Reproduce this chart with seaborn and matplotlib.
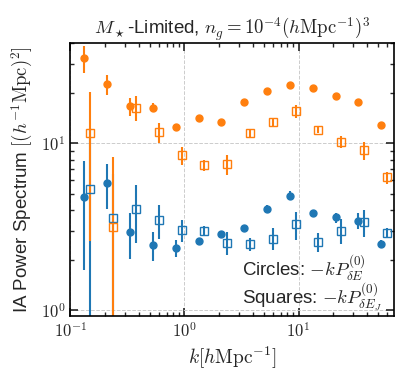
import matplotlib

matplotlib.use("Agg")
import matplotlib.pyplot as plt
import numpy as np
import seaborn as sns
from matplotlib.ticker import FuncFormatter, LogLocator

# ───────────────────────────────────────────────────────────────
# Data
# ───────────────────────────────────────────────────────────────
k_circles = [0.133, 0.211, 0.335, 0.531, 0.841, 1.33, 2.11, 3.35, 5.31, 8.41, 13.3, 21.1, 33.5, 53.1]
k_squares = [0.150, 0.237, 0.376, 0.596, 0.944, 1.49, 2.37, 3.76, 5.96, 9.44, 14.9, 23.7, 37.6, 59.6]

blue_circ = [4.8, 5.8, 2.93, 2.46, 2.35, 2.6, 2.85, 3.09, 4.07, 4.85, 3.82, 3.6, 3.43, 2.5]
blue_circ_err = [3.05, 1.75, 0.9, 0.48, 0.27, 0.1, 0.12, 0.1, 0.2, 0.3, 0.15, 0.25, 0.38, 0.15]
orange_circ = [32.5, 22.6, 16.7, 16.4, 12.6, 14.3, 13.4, 17.7, 20.7, 22.4, 21.4, 19.3, 17.7, 12.9]
orange_circ_err = [5.9, 3.1, 2.0, 1.05, 0.5, 0.3, 0.4, 0.35, 0.4, 0.45, 0.4, 0.4, 0.35, 0.4]

blue_sq = [5.3, 3.58, 4.07, 3.48, 3.02, 2.98, 2.53, 2.49, 2.69, 3.27, 2.57, 3.0, 3.37, 2.91]
blue_sq_err = [7.0, 3.0, 1.55, 0.81, 0.45, 0.2, 0.4, 0.23, 0.4, 0.63, 0.35, 0.5, 0.63, 0.2]
orange_sq = [11.5, 3.16, 16.4, 11.7, 8.47, 7.41, 7.5, 11.5, 13.5, 15.6, 12.0, 10.2, 9.12, 6.25]
orange_sq_err = [8.9, 5.1, 2.85, 1.6, 1.0, 0.55, 1.05, 0.6, 0.75, 1.35, 0.5, 0.85, 1.15, 0.5]

BLUE = "#1f77b4"
ORANGE = "#ff7f0e"

# ───────────────────────────────────────────────────────────────
# Style
# ───────────────────────────────────────────────────────────────
sns.set_theme(style="ticks")
plt.rcParams.update({
    "font.family": ["Liberation Sans", "DejaVu Sans"],
    "mathtext.fontset": "cm",
    "xtick.direction": "in",
    "ytick.direction": "in",
    "xtick.top": True,
    "ytick.right": True,
    "xtick.minor.visible": True,
    "ytick.minor.visible": True,
    "xtick.major.size": 6,
    "ytick.major.size": 6,
    "xtick.minor.size": 3,
    "ytick.minor.size": 3,
    "xtick.major.width": 1.2,
    "ytick.major.width": 1.2,
    "axes.linewidth": 1.2,
    "axes.edgecolor": "black",
})

fig, ax = plt.subplots(figsize=(4.13, 3.81), dpi=100)

ax.errorbar(k_circles, blue_circ, yerr=blue_circ_err, fmt="o", color=BLUE,
            ms=5, elinewidth=1.5, capsize=0)
ax.errorbar(k_circles, orange_circ, yerr=orange_circ_err, fmt="o", color=ORANGE,
            ms=5, elinewidth=1.5, capsize=0)
ax.errorbar(k_squares, blue_sq, yerr=blue_sq_err, fmt="s", color=BLUE, mfc="none",
            ms=6, mew=1.0, elinewidth=1.5, capsize=0)
ax.errorbar(k_squares, orange_sq, yerr=orange_sq_err, fmt="s", color=ORANGE, mfc="none",
            ms=6, mew=1.0, elinewidth=1.5, capsize=0)

ax.set_xscale("log")
ax.set_yscale("log")
ax.set_xlim(0.1, 68)
ax.set_ylim(0.92, 40)
ax.grid(True, which="major", ls="--", color="#cccccc", lw=0.7)

# Computer-Modern style tick labels like the original
pow_fmt = FuncFormatter(lambda v, _: r"$10^{%d}$" % round(np.log10(v)))
ax.xaxis.set_major_locator(LogLocator(base=10))
ax.yaxis.set_major_locator(LogLocator(base=10))
ax.xaxis.set_major_formatter(pow_fmt)
ax.yaxis.set_major_formatter(pow_fmt)
ax.tick_params(labelsize=12)

ax.set_title(r"$M_\star$-Limited, $n_g = 10^{-4}(h\mathrm{Mpc}^{-1})^3$", fontsize=13.5)
ax.set_xlabel(r"$k[h\mathrm{Mpc}^{-1}]$", fontsize=14)
ax.set_ylabel(r"IA Power Spectrum $[(h^{-1}\mathrm{Mpc})^2]$", fontsize=13.5)

ax.text(0.53, 0.145, r"Circles: $-kP^{(0)}_{\delta E}$", transform=ax.transAxes,
        fontsize=13.5, ha="left", va="baseline")
ax.text(0.53, 0.045, r"Squares: $-kP^{(0)}_{\delta E_J}$", transform=ax.transAxes,
        fontsize=13.5, ha="left", va="baseline")

fig.subplots_adjust(left=0.17, right=0.953, bottom=0.17, top=0.887)
fig.savefig("out.png", dpi=100)
